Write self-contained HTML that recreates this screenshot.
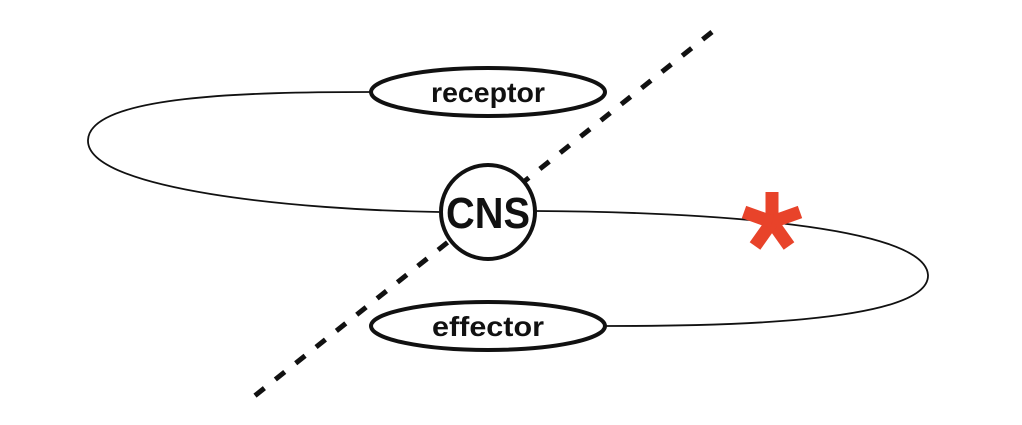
<!DOCTYPE html>
<html><head><style>body{margin:0;background:#fff}</style></head><body>
<svg width="1022" height="420" viewBox="0 0 1022 420" xmlns="http://www.w3.org/2000/svg">
<rect width="1022" height="420" fill="#fff"/>
<line x1="712" y1="32" x2="252" y2="398" stroke="#111" stroke-width="5" stroke-dasharray="12,14"/>
<path d="M370,92 C250,92 90,95 88,140 C86,190 300,210 439,212" fill="none" stroke="#111" stroke-width="1.8"/>
<path d="M535,211 C700,212 925,225 928,275 C930,325 700,326 606,326" fill="none" stroke="#111" stroke-width="1.8"/>
<ellipse cx="488" cy="92" rx="117" ry="24" fill="#fff" stroke="#111" stroke-width="4"/>
<ellipse cx="488" cy="326" rx="117" ry="24" fill="#fff" stroke="#111" stroke-width="4"/>
<circle cx="488" cy="212" r="47" fill="#fff" stroke="#111" stroke-width="4"/>
<g font-family="Liberation Sans, sans-serif" font-weight="bold" fill="#111" text-anchor="middle">
<text x="488" y="102" font-size="28" textLength="114" lengthAdjust="spacingAndGlyphs">receptor</text>
<text x="488" y="336" font-size="28" textLength="112" lengthAdjust="spacingAndGlyphs">effector</text>
<text x="488" y="228" font-size="44" textLength="84" lengthAdjust="spacingAndGlyphs">CNS</text>
</g>
<g stroke="#e8432a" stroke-width="13" stroke-linecap="butt">
<line x1="772" y1="222" x2="772" y2="192"/>
<line x1="772" y1="222" x2="800" y2="212"/>
<line x1="772" y1="222" x2="789" y2="246"/>
<line x1="772" y1="222" x2="755" y2="246"/>
<line x1="772" y1="222" x2="744" y2="212"/>
</g>
</svg>
</body></html>
